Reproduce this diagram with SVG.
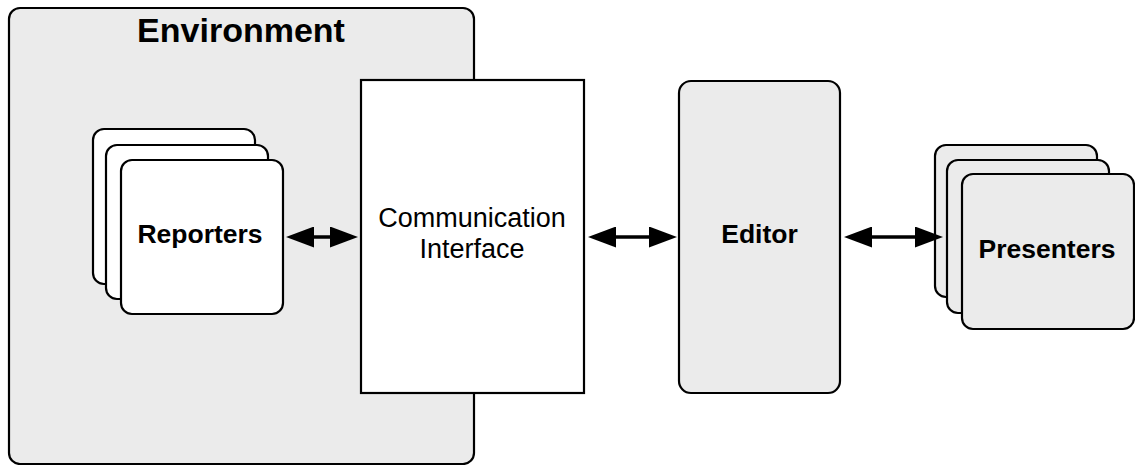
<svg xmlns="http://www.w3.org/2000/svg" width="1135" height="465" viewBox="0 0 1135 465">
<style>
  .box{stroke:#000;stroke-width:2.2}
  .gray{fill:#ebebeb}
  .white{fill:#fff}
  .lbl{font-family:"Liberation Sans",Arial,Helvetica,sans-serif;font-size:26.5px;text-anchor:middle;fill:#000}
  .reg{font-size:27px}
  .b{font-weight:bold}
  .title{font-size:34px}
  .conn{stroke:#000;stroke-width:3.5;fill:none;marker-start:url(#ah);marker-end:url(#ah)}
</style>
<defs>
  <marker id="ah" markerUnits="userSpaceOnUse" viewBox="0 0 28 21" markerWidth="28" markerHeight="21" refX="8" refY="10.5" orient="auto-start-reverse">
    <path d="M0,0 L28,10.5 L0,21 Z" fill="#000"/>
  </marker>
</defs>
<rect width="1135" height="465" fill="#fff"/>
<g id="environment">
  <rect class="box gray" x="9" y="8" width="465" height="456" rx="11"/>
  <text class="lbl b title" x="241" y="42">Environment</text>
</g>
<g id="reporters">
  <rect class="box white" x="93" y="129" width="162" height="155" rx="11"/>
  <rect class="box white" x="106" y="145" width="162" height="154" rx="11"/>
  <rect class="box white" x="121" y="160" width="162" height="154" rx="11"/>
  <text class="lbl b" x="200" y="243">Reporters</text>
</g>
<g id="communication-interface">
  <rect class="box white" x="361" y="80" width="223" height="313"/>
  <text class="lbl reg" x="472" y="227">Communication</text>
  <text class="lbl reg" x="472" y="258">Interface</text>
</g>
<g id="editor">
  <rect class="box gray" x="679" y="81" width="161" height="312" rx="12"/>
  <text class="lbl b" x="759.5" y="243">Editor</text>
</g>
<g id="presenters">
  <rect class="box gray" x="935" y="145" width="162" height="152" rx="11"/>
  <rect class="box gray" x="947" y="160" width="162" height="153" rx="11"/>
  <rect class="box gray" x="962" y="174" width="172" height="155" rx="11"/>
  <text class="lbl b" x="1047" y="258">Presenters</text>
</g>
<g id="connectors">
  <line class="conn" x1="306" y1="237" x2="338" y2="237"/>
  <line class="conn" x1="608" y1="237" x2="657" y2="237"/>
  <line class="conn" x1="864" y1="237" x2="923" y2="237"/>
</g>
</svg>
